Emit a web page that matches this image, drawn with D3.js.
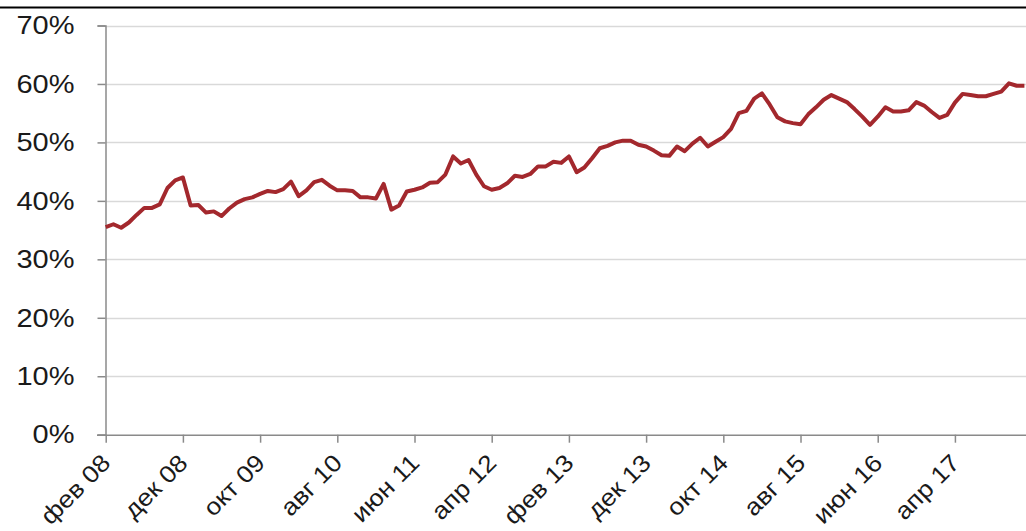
<!DOCTYPE html>
<html>
<head>
<meta charset="utf-8">
<script src="https://cdn.jsdelivr.net/npm/d3@7"></script>
<style>
  html, body { margin: 0; padding: 0; background: #fff; }
  svg { display: block; font-family: "Liberation Sans", Arial, sans-serif; }
</style>
</head>
<body>
<svg id="chart" width="1026" height="531"></svg>
<script>
// месяцы с фев 08, шаг 1 месяц
var values = [
  35.5, 36.0, 35.4, 36.3, 37.6, 38.8, 38.8, 39.4, 42.2, 43.5,
  44.0, 39.2, 39.3, 38.0, 38.2, 37.4, 38.7, 39.7, 40.3, 40.6,
  41.2, 41.7, 41.5, 42.0, 43.3, 40.8, 41.8, 43.2, 43.6, 42.6,
  41.8, 41.8, 41.7, 40.6, 40.6, 40.4, 42.9, 38.5, 39.2, 41.6,
  41.9, 42.3, 43.1, 43.2, 44.5, 47.6, 46.4, 47.0, 44.5, 42.5,
  41.9, 42.2, 43.0, 44.3, 44.1, 44.6, 45.9, 45.9, 46.7, 46.5,
  47.6, 44.9, 45.7, 47.3, 49.0, 49.4, 50.0, 50.3, 50.3, 49.6,
  49.3, 48.6, 47.8, 47.7, 49.3, 48.5, 49.8, 50.8, 49.3, 50.1,
  50.9, 52.3, 55.0, 55.4, 57.5, 58.4, 56.5, 54.3, 53.6, 53.3,
  53.1, 54.8, 56.0, 57.3, 58.1, 57.5, 56.9, 55.7, 54.4, 53.0,
  54.4, 56.0, 55.3, 55.3, 55.5, 56.9, 56.3, 55.2, 54.2, 54.7,
  56.8, 58.3, 58.1, 57.9, 57.9, 58.3, 58.7, 60.1, 59.7, 59.7
]
var tickLabels = ['фев 08', 'дек 08', 'окт 09', 'авг 10', 'июн 11', 'апр 12',
                  'фев 13', 'дек 13', 'окт 14', 'авг 15', 'июн 16', 'апр 17']
var tickIndex = [0, 10, 20, 30, 40, 50, 60, 70, 80, 90, 100, 110]
var yTicks = [0, 10, 20, 30, 40, 50, 60, 70]

var svg = d3.select('#chart')

// черта сверху (обрезанный заголовок)
svg.append('line')
    .attr('x1', 0).attr('x2', 1026)
    .attr('y1', 7.5).attr('y2', 7.5)
    .attr('stroke', '#000')
    .attr('stroke-width', 2)

var x = d3.scaleLinear()
    .domain([0, values.length - 1])
    .range([105.7, 1024.4])

var y = d3.scaleLinear()
    .domain([0, 70])
    .range([434.7, 25.5])

// сетка
svg.append('g')
    .selectAll('line')
    .data(yTicks.filter(function (d) { return d > 0 }))
    .enter()
    .append('line')
    .attr('x1', 105.5).attr('x2', 1026)
    .attr('y1', function (d) { return Math.round(y(d)) + 0.5 })
    .attr('y2', function (d) { return Math.round(y(d)) + 0.5 })
    .attr('stroke', '#d9d9d9')
    .attr('stroke-width', 1.5)

// ось Y
var yAxis = d3.axisLeft(y)
    .tickValues(yTicks)
    .tickSize(8)
    .tickFormat(function (d) { return d + '%' })

var gy = svg.append('g')
    .attr('transform', 'translate(105.5,0)')
    .call(yAxis)
gy.select('.domain').attr('stroke', '#8a8a8a').attr('stroke-width', 1.5)
gy.selectAll('.tick line').attr('stroke', '#8a8a8a').attr('stroke-width', 1.5)
gy.selectAll('text')
    .attr('x', 0)
    .attr('font-size', '25px')
    .attr('fill', '#1a1a1a')
    .attr('dy', '0.33em')
    .attr('transform', 'translate(-31,0) scale(1.16,1)')

// ось X
var xAxis = d3.axisBottom(x)
    .tickValues(tickIndex)
    .tickSize(8)
    .tickFormat(function (d, i) { return tickLabels[i] })

var gx = svg.append('g')
    .attr('transform', 'translate(0,434.7)')
    .call(xAxis)
gx.select('.domain')
    .attr('d', 'M97,0.5H1026')
    .attr('stroke', '#8a8a8a')
    .attr('stroke-width', 1.5)
gx.selectAll('.tick line').attr('stroke', '#8a8a8a').attr('stroke-width', 1.5)
gx.selectAll('text')
    .attr('font-size', '24px')
    .attr('fill', '#1a1a1a')
    .attr('text-anchor', 'end')
    .attr('dy', '0')
    .attr('transform', 'translate(-2,22) rotate(-45) scale(1.1,1)')

// линия
var line = d3.line()
    .x(function (d, i) { return x(i) })
    .y(function (d) { return y(d) })

svg.append('path')
    .datum(values)
    .attr('fill', 'none')
    .attr('stroke', '#a3282d')
    .attr('stroke-width', 4)
    .attr('stroke-linejoin', 'round')
    .attr('d', line)
</script>
</body>
</html>
